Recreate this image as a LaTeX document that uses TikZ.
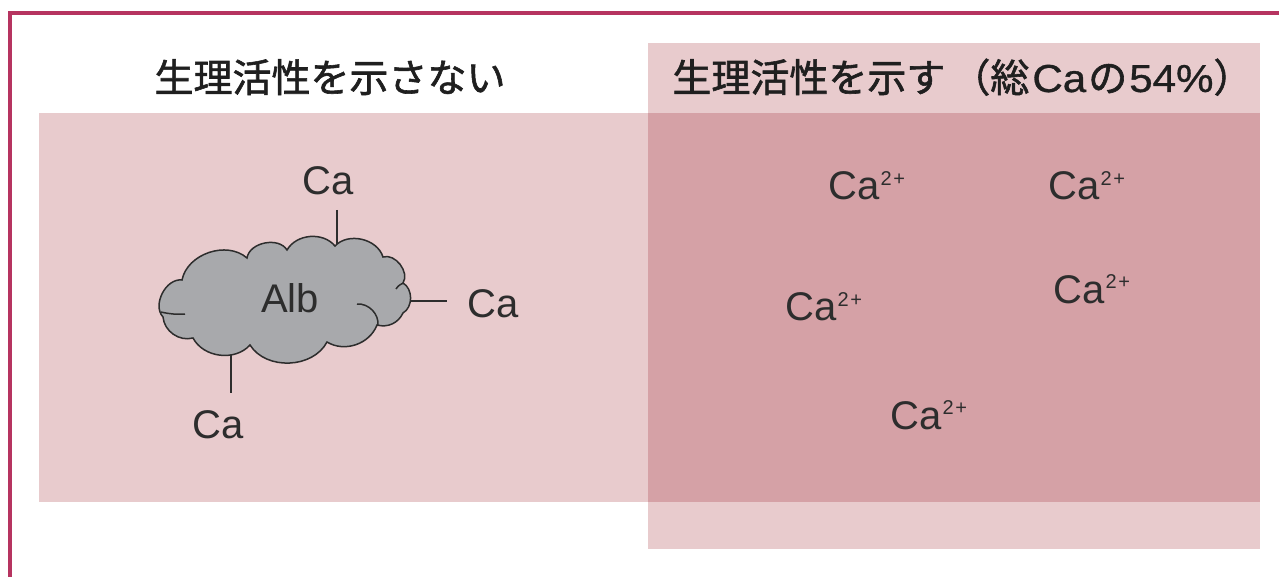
\documentclass[tikz,border=0pt]{standalone}
\usepackage{fontspec}
\setmainfont{Liberation Sans}
\newfontfamily\jpfont[FakeBold=1.5]{Noto Sans CJK JP}
\newfontfamily\latinhead[FakeStretch=1.08,FakeBold=0.8]{Liberation Sans}
\definecolor{framered}{RGB}{182,52,96}
\definecolor{palepink}{RGB}{232,203,205}
\definecolor{deeppink}{RGB}{213,161,166}
\definecolor{albgray}{RGB}{168,169,172}
\definecolor{inkgray}{RGB}{45,45,45}
\newcommand{\caion}{Ca\kern0.6pt\raisebox{7.4pt}{\fontsize{10}{10}\selectfont 2\kern0.8pt+}}
\begin{document}
\begin{tikzpicture}[x=0.5pt,y=-0.5pt,
  title/.style={font=\jpfont\fontsize{19.5}{20}\selectfont, text=black!88, inner sep=0pt, anchor=base},
  label/.style={font=\fontsize{20}{22}\selectfont, text=inkgray, inner sep=0pt, anchor=base west},
  ion/.style={label},
  bond/.style={draw=inkgray, line width=0.9pt},
  cloudline/.style={draw=inkgray, line width=0.75pt}]
\useasboundingbox (0,0) rectangle (1279,577);

% panels
\fill[palepink] (39,113) rectangle (648,502);
\fill[palepink] (648,43) rectangle (1260,549);
\fill[deeppink] (648,113) rectangle (1260,502);

% outer frame (open on the right and at the bottom)
\draw[framered, line width=2pt] (10,600) -- (10,13) -- (1300,13);

% headings
\node[title] (h1) at (330,92) {生理活性を示さない};
\node[title, anchor=base west] (h2) at (672,92)
  {生理活性を示す\kern3pt（総{\latinhead\kern1.5pt Ca\kern1pt}の{\latinhead\kern1pt 54\%}）};

% albumin cloud
\path[cloudline, fill=albgray]
  (163,317) to[bend left=70] (182,280) to[bend left=60] (247,258)
  to[bend left=70] (287,250) to[bend left=55] (335,246)
  to[bend left=60] (383,257) to[bend left=70] (403,283)
  to[bend left=60] (403,313) to[bend left=40] (377,325)
  to[bend left=50] (327,342) to[bend left=60] (250,345)
  to[bend left=55] (193,338) to[bend left=50] cycle;
\draw[cloudline] (161,312) to[bend right=8] (185,314);
\draw[cloudline] (357,304) to[bend left=50] (378,326);
\draw[cloudline] (396,289) to[bend left=20] (404,283);

\node[label, anchor=base] (alb) at (290,313) {Alb};

% bound calcium
\node[label] (ca1) at (302,195) {Ca};
\node[label] (ca2) at (467,317) {Ca};
\node[label] (ca3) at (192,438) {Ca};

\coordinate (b1a) at (337,210); \coordinate (b1b) at (337,244);
\coordinate (b2a) at (410,301); \coordinate (b2b) at (447,301);
\coordinate (b3a) at (231,355); \coordinate (b3b) at (231,393);
\draw[bond] (b1a) -- (b1b);
\draw[bond] (b2a) -- (b2b);
\draw[bond] (b3a) -- (b3b);

% ionised calcium
\node[ion] (i1) at (828,200) {\caion};
\node[ion] (i2) at (1048,200) {\caion};
\node[ion] (i3) at (785,321) {\caion};
\node[ion] (i4) at (1053,303) {\caion};
\node[ion] (i5) at (890,429) {\caion};
\end{tikzpicture}
\end{document}
